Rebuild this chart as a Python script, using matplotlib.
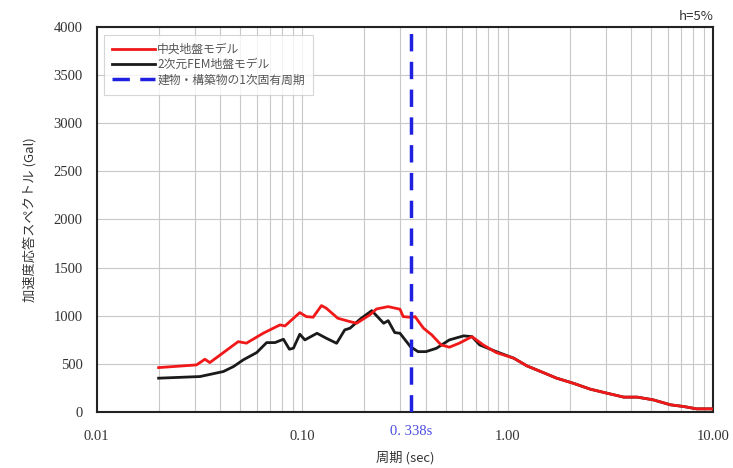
import numpy as np
import matplotlib.pyplot as plt
from matplotlib.ticker import FixedLocator, NullFormatter

plt.rcParams['font.family'] = ['Noto Sans CJK JP', 'DejaVu Sans']

# 中央地盤モデル
red_t = [0.020, 0.0306, 0.0336, 0.0355, 0.0488, 0.0535, 0.0645, 0.0779, 0.0824, 0.0973,
         0.1047, 0.113, 0.124, 0.131, 0.149, 0.171, 0.184, 0.213, 0.230, 0.262,
         0.299, 0.310, 0.340, 0.354, 0.389, 0.427, 0.474, 0.52, 0.58, 0.67,
         0.76, 0.88, 1.07, 1.24, 1.49, 1.73, 2.08, 2.52, 3.04, 3.67,
         4.27, 5.1, 6.2, 7.2, 8.3, 10.0]
red_v = [460, 488, 547, 512, 730, 714, 817, 904, 893, 1032,
         990, 984, 1105, 1077, 973, 938, 921, 1008, 1070, 1094,
         1067, 990, 983, 990, 870, 800, 696, 672, 713, 782,
         696, 616, 558, 478, 408, 350, 298, 236, 194, 153,
         153, 125, 73, 55, 31, 31]

# 2次元FEM地盤モデル
black_t = [0.020, 0.0318, 0.0413, 0.0463, 0.0516, 0.060, 0.0671, 0.0737, 0.081, 0.0866,
           0.0906, 0.0973, 0.103, 0.118, 0.131, 0.147, 0.161, 0.171, 0.191, 0.218,
           0.249, 0.262, 0.282, 0.299, 0.336, 0.366, 0.40, 0.45, 0.52, 0.61,
           0.67, 0.73, 0.88, 1.07, 1.24, 1.49, 1.73, 2.08, 2.52, 3.04,
           3.67, 4.27, 5.1, 6.2, 7.2, 8.3, 10.0]
black_v = [350, 367, 419, 471, 540, 616, 720, 720, 755, 651,
           662, 807, 748, 817, 765, 713, 852, 870, 963, 1052,
           921, 948, 824, 817, 678, 626, 626, 661, 748, 790,
           782, 696, 626, 558, 478, 408, 350, 298, 236, 194,
           153, 153, 125, 73, 55, 31, 31]

natural_period = 0.338
major_ticks = [0.01, 0.1, 1.0, 10.0]
major_labels = ['0.01', '0.10', '1.00', '10.00']

fig = plt.figure(figsize=(7.33, 4.68), dpi=100)
ax = fig.add_axes([0.132, 0.12, 0.841, 0.822])

ax.set_xscale('log')
ax.set_xlim(0.01, 10)
ax.set_ylim(0, 4000)

ax.plot(black_t, black_v, color='#1a1a1a', lw=2.0, label='2次元FEM地盤モデル', zorder=3)
ax.plot(red_t, red_v, color='#f01818', lw=2.0, label='中央地盤モデル', zorder=4)
ax.axvline(natural_period, color='#2020e0', lw=2.5, ls=(0, (5, 3)),
           label='建物・構築物の1次固有周期', zorder=5)

minor = [m * 10.0 ** e for e in range(-2, 1) for m in range(2, 10)]
ax.xaxis.set_major_locator(FixedLocator(major_ticks))
ax.xaxis.set_minor_locator(FixedLocator(minor))
ax.xaxis.set_minor_formatter(NullFormatter())
ax.set_xticklabels(major_labels, family=['Liberation Serif', 'DejaVu Serif'], fontsize=10.5)
ax.set_yticks(np.arange(0, 4001, 500))
ax.set_yticklabels([str(v) for v in range(0, 4001, 500)],
                   family=['Liberation Serif', 'DejaVu Serif'], fontsize=10.5)
ax.tick_params(which='both', length=0, colors='#333333')
ax.tick_params(axis='x', pad=13)
ax.tick_params(axis='y', pad=10)

ax.grid(True, which='both', axis='x', color='#c8c8c8', lw=0.8)
ax.grid(True, which='major', axis='y', color='#c8c8c8', lw=0.8)
for s in ax.spines.values():
    s.set_color('#222222')
    s.set_linewidth(1.5)

# 固有周期のラベル
ax.text(natural_period, -0.034, '0. 338s', transform=ax.get_xaxis_transform(),
        ha='center', va='top', color='#4a4ae0', fontsize=10.5,
        family=['Liberation Serif', 'DejaVu Serif'])

ax.set_xlabel('周期 (sec)', fontsize=9.5, color='#333333')
ax.xaxis.label.set_va('center')
ax.xaxis.set_label_coords(0.5, -0.12)
ax.set_ylabel('加速度応答スペクトル (Gal)', fontsize=9.5, labelpad=12, color='#333333')
ax.text(1.0, 1.012, 'h=5%', transform=ax.transAxes, ha='right', va='bottom',
        fontsize=9.5, color='#333333')

handles, labels = ax.get_legend_handles_labels()
order = [1, 0, 2]
leg = ax.legend([handles[i] for i in order], [labels[i] for i in order],
                loc='upper left', bbox_to_anchor=(0.006, 0.99), fontsize=8.5,
                frameon=True, fancybox=False, edgecolor='#cccccc',
                handlelength=3.6, handletextpad=0.2, borderpad=0.7,
                labelspacing=0.2, labelcolor='#555555',
                borderaxespad=0.3)
leg.get_frame().set_linewidth(0.8)

fig.savefig('out.png', dpi=100)
